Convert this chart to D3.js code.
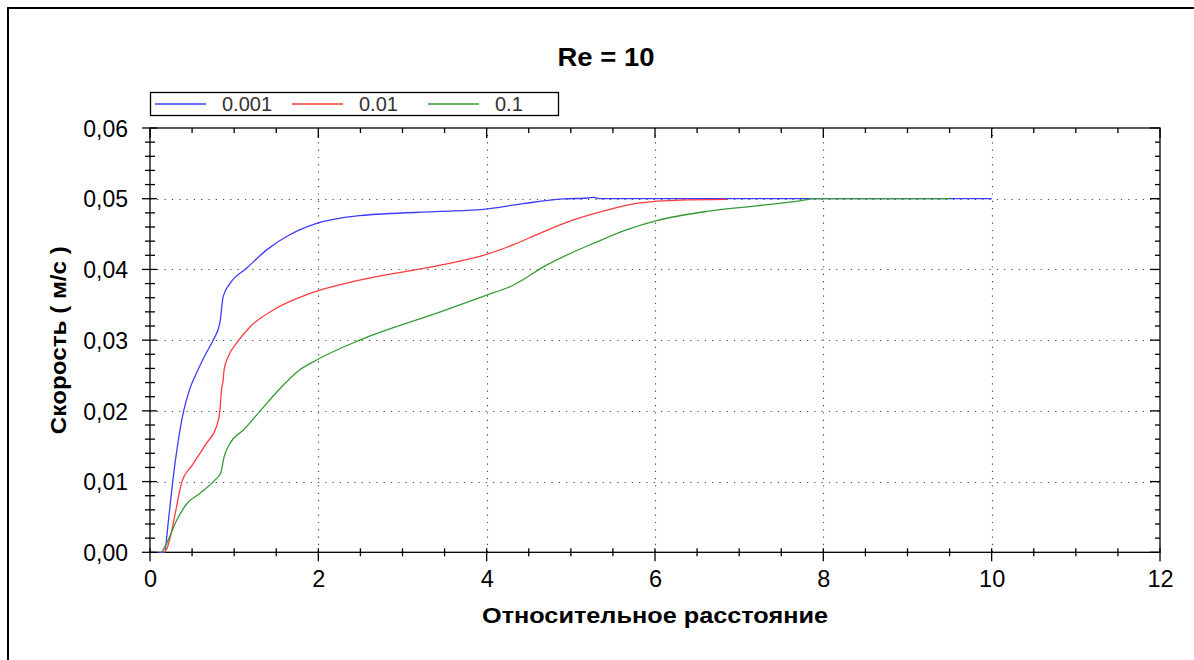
<!DOCTYPE html>
<html>
<head>
<meta charset="utf-8">
<script src="https://cdn.jsdelivr.net/npm/d3@7"></script>
<style>
  html, body { margin: 0; padding: 0; background: #fff; }
  svg { display: block; }
  text { font-family: "Liberation Sans", Arial, sans-serif; }
</style>
</head>
<body>
<svg id="chart" width="1194" height="660"></svg>
<script>
// Velocity profiles along the channel, Re = 10
const chartTitle = "Re = 10";
const xTitle = "Относительное расстояние";
const yTitle = "Скорость ( м/с )";

const seriesNames = ["0.001", "0.01", "0.1"];
const seriesColors = ["#3c3cff", "#ff3c3c", "#359a35"];

const xTicks = [0, 2, 4, 6, 8, 10, 12];
const yTicks = [0, 0.01, 0.02, 0.03, 0.04, 0.05, 0.06];

// 0.001
const dist1 = [0.1, 0.17, 0.22, 0.27, 0.40, 0.47, 0.57, 0.66, 0.75, 0.83, 0.87, 0.95, 1.15, 1.39, 1.66, 1.98, 2.49, 3.45, 3.96, 4.43, 4.91, 5.2, 5.27, 5.35, 6, 7, 8, 9, 10];
const vel1  = [0, 0, 0.0046, 0.01, 0.02, 0.023, 0.0258, 0.028, 0.030, 0.0324, 0.0362, 0.038, 0.0402, 0.0428, 0.0449, 0.0465, 0.0476, 0.0482, 0.0485, 0.0493, 0.04997, 0.0501, 0.0502, 0.0500, 0.05, 0.05, 0.05, 0.05, 0.05];

// 0.01
const dist2 = [0.16, 0.2, 0.26, 0.285, 0.38, 0.50, 0.67, 0.79, 0.83, 0.85, 0.87, 0.88, 0.93, 1.03, 1.19, 1.47, 1.90, 2.49, 3.45, 3.96, 4.32, 4.63, 5.03, 5.43, 5.82, 6.30, 6.85];
const vel2  = [0, 0.0005, 0.00315, 0.0046, 0.01, 0.0123, 0.0154, 0.0178, 0.020, 0.023, 0.0244, 0.0258, 0.0277, 0.0296, 0.0319, 0.0343, 0.0366, 0.0385, 0.0406, 0.0420, 0.0435, 0.0451, 0.047, 0.0484, 0.0494, 0.0498, 0.0499];

// 0.1
const dist3 = [0.14, 0.2, 0.32, 0.44, 0.59, 0.77, 0.84, 0.88, 0.95, 1.11, 1.31, 1.51, 1.78, 1.98, 2.49, 3.45, 3.96, 4.32, 4.71, 5.31, 5.66, 6.02, 6.61, 7.21, 7.72, 7.9, 9.5];
const vel3  = [0, 0.0013, 0.0046, 0.0069, 0.0083, 0.0102, 0.0112, 0.0135, 0.0154, 0.0173, 0.020, 0.0227, 0.0258, 0.0272, 0.030, 0.034, 0.0362, 0.0378, 0.0406, 0.0439, 0.0456, 0.0469, 0.0482, 0.049, 0.0497, 0.05, 0.05];

const series = [
  { name: seriesNames[0], color: seriesColors[0], pts: d3.zip(dist1, vel1) },
  { name: seriesNames[1], color: seriesColors[1], pts: d3.zip(dist2, vel2) },
  { name: seriesNames[2], color: seriesColors[2], pts: d3.zip(dist3, vel3) }
];

const svg = d3.select("#chart");
const plot = { left: 150, right: 1160, top: 128, bottom: 552.3 };

const x = d3.scaleLinear().domain([0, 12]).range([plot.left, plot.right]);
const y = d3.scaleLinear().domain([0, 0.06]).range([plot.bottom, plot.top]);

// outer frame
svg.append("path")
  .attr("d", "M8,660 L8,8 L1194,8")
  .attr("fill", "none").attr("stroke", "#000").attr("stroke-width", 2);

// title
svg.append("text")
  .attr("x", 606).attr("y", 66)
  .attr("text-anchor", "middle")
  .attr("font-size", 25).attr("font-weight", "bold")
  .attr("textLength", 97).attr("lengthAdjust", "spacingAndGlyphs")
  .text(chartTitle);

// dotted grid
const grid = svg.append("g").attr("stroke", "#444").attr("stroke-width", 1.2)
  .attr("stroke-dasharray", "1.2,6.1");
xTicks.filter(t => t > 0 && t < 12).forEach(t => {
  grid.append("line")
    .attr("x1", Math.round(x(t)) + 0.5).attr("x2", Math.round(x(t)) + 0.5)
    .attr("y1", plot.bottom).attr("y2", plot.top);
});
yTicks.filter(t => t > 0 && t < 0.06).forEach(t => {
  grid.append("line")
    .attr("y1", Math.round(y(t)) + 0.5).attr("y2", Math.round(y(t)) + 0.5)
    .attr("x1", plot.left).attr("x2", plot.right);
});

// frame of the plot area
svg.append("rect")
  .attr("x", plot.left).attr("y", plot.top)
  .attr("width", plot.right - plot.left).attr("height", plot.bottom - plot.top)
  .attr("fill", "none").attr("stroke", "#000").attr("stroke-width", 1.3);

const tickG = svg.append("g").attr("stroke", "#000").attr("stroke-width", 1.3);
const xMinor = d3.range(0, 12.01, 0.5);
const yMinor = d3.range(0, 0.0601, 0.002);
const isMajorX = v => Math.abs(v / 2 - Math.round(v / 2)) < 1e-6;
const isMajorY = v => Math.abs(v / 0.01 - Math.round(v / 0.01)) < 1e-6;

xMinor.forEach(v => {
  const px = x(v), maj = isMajorX(v);
  tickG.append("line").attr("x1", px).attr("x2", px)
    .attr("y1", plot.bottom - 4).attr("y2", plot.bottom + (maj ? 9 : 4));
  tickG.append("line").attr("x1", px).attr("x2", px)
    .attr("y1", plot.top).attr("y2", plot.top + (maj ? 10 : 5));
});
yMinor.forEach(v => {
  const py = y(v), maj = isMajorY(v);
  tickG.append("line").attr("y1", py).attr("y2", py)
    .attr("x1", plot.left - (maj ? 8 : 5)).attr("x2", plot.left + (maj ? 7 : 5));
  tickG.append("line").attr("y1", py).attr("y2", py)
    .attr("x1", plot.right - (maj ? 10 : 5)).attr("x2", plot.right);
});

// tick labels
const xAxis = d3.axisBottom(x).tickValues(xTicks).tickSize(0).tickPadding(0).tickFormat(d3.format("d"));
const gx = svg.append("g").attr("transform", `translate(0,${plot.bottom})`).call(xAxis);
gx.select(".domain").remove();
gx.selectAll("text").attr("font-size", 23.5).attr("fill", "#000")
  .attr("font-family", "'Liberation Sans', Arial, sans-serif")
  .attr("dy", null).attr("y", 35);

const yAxis = d3.axisLeft(y).tickValues(yTicks).tickSize(0).tickPadding(0)
  .tickFormat(v => d3.format(".2f")(v).replace(".", ","));
const gy = svg.append("g").attr("transform", `translate(${plot.left},0)`).call(yAxis);
gy.select(".domain").remove();
gy.selectAll("text").attr("font-size", 23).attr("fill", "#000")
  .attr("font-family", "'Liberation Sans', Arial, sans-serif")
  .attr("x", -22).attr("dy", "0.36em");

// axis titles
svg.append("text")
  .attr("x", (plot.left + plot.right) / 2).attr("y", 623)
  .attr("text-anchor", "middle")
  .attr("font-size", 22).attr("font-weight", "bold")
  .attr("textLength", 346).attr("lengthAdjust", "spacingAndGlyphs")
  .text(xTitle);
svg.append("text")
  .attr("transform", `translate(66,${(plot.top + plot.bottom) / 2}) rotate(-90)`)
  .attr("text-anchor", "middle")
  .attr("font-size", 22).attr("font-weight", "bold")
  .attr("textLength", 188).attr("lengthAdjust", "spacingAndGlyphs")
  .text(yTitle);

// curves
const line = d3.line()
  .x(d => x(d[0])).y(d => y(d[1]))
  .curve(d3.curveMonotoneX);
svg.append("g").selectAll("path").data(series).join("path")
  .attr("d", d => line(d.pts))
  .attr("fill", "none")
  .attr("stroke", d => d.color)
  .attr("stroke-width", 1.3);

// legend
const legend = svg.append("g");
legend.append("rect")
  .attr("x", 150.5).attr("y", 92.5).attr("width", 408).attr("height", 23)
  .attr("fill", "#fff").attr("stroke", "#000").attr("stroke-width", 1.3);
const legendX = [155, 292, 428];
series.forEach((s, i) => {
  legend.append("line")
    .attr("x1", legendX[i]).attr("x2", legendX[i] + 51)
    .attr("y1", 104).attr("y2", 104)
    .attr("stroke", s.color).attr("stroke-width", 1.3);
  legend.append("text")
    .attr("x", legendX[i] + 67).attr("y", 110.5)
    .attr("font-size", 20).attr("fill", "#333")
    .text(s.name);
});
</script>
</body>
</html>
